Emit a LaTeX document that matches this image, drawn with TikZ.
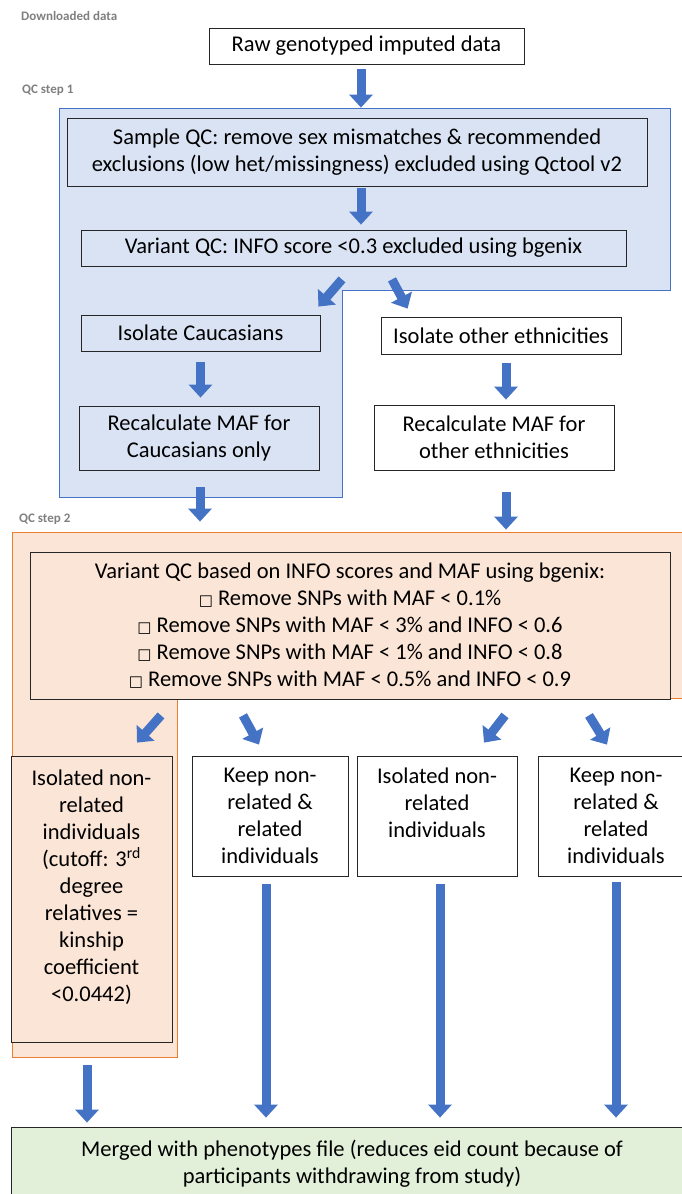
\documentclass[tikz,border=0pt]{standalone}
\usepackage{fontspec}
\setmainfont{Carlito}
\newfontfamily\boxsym{DejaVu Sans}
\usetikzlibrary{arrows.meta}
\definecolor{regionblue}{HTML}{DAE3F3}
\definecolor{edgeblue}{HTML}{4472C4}
\definecolor{regionorange}{HTML}{FBE5D6}
\definecolor{edgeorange}{HTML}{ED7D31}
\definecolor{mergegreen}{HTML}{E2F0D9}
\definecolor{arrowblue}{HTML}{4472C4}
\definecolor{labelgray}{HTML}{7F7F7F}
\newcommand{\chk}{{\boxsym\fontsize{15}{15}\selectfont\char"25A1}\ }
\tikzstyle{stage} = [rectangle, draw=black!85, line width=0.8pt, inner sep=0pt, align=center, font=\fontsize{22.5}{27}\selectfont]
\tikzstyle{steplabel} = [anchor=west, inner sep=0pt, text=labelgray, font=\bfseries\fontsize{13}{15}\selectfont]
\tikzstyle{blockarrow} = [line width=9pt, draw=arrowblue, -{Triangle[width=23pt,length=13pt]}]

\begin{document}
\begin{tikzpicture}[x=1pt, y=-1pt]
\useasboundingbox (0,0) rectangle (682,1194);

%Regions
\filldraw [fill=regionblue, draw=edgeblue, line width=0.8pt] (59,108) -- (670,108) -- (670,290) -- (342,290) -- (342,497) -- (59,497) -- cycle;
\filldraw [fill=regionorange, draw=edgeorange, line width=0.8pt] (12,532) -- (690,532) -- (690,698) -- (177,698) -- (177,1057) -- (12,1057) -- cycle;

%Labels
\node (dl_label) [steplabel] at (21,16) {Downloaded data};
\node (qc1_label) [steplabel] at (22,90) {QC step 1};
\node (qc2_label) [steplabel] at (19,519) {QC step 2};

%Raw data
\node (raw) [stage, fill=white, minimum width=315pt, minimum height=36pt] at (366.5,46) {Raw genotyped imputed data};

%QC step 1
\node (sample_qc) [stage, fill=regionblue, minimum width=580pt, minimum height=68pt] at (357,152) {Sample QC: remove sex mismatches \& recommended\\exclusions (low het/missingness) excluded using Qctool v2};
\node (variant_qc) [stage, fill=regionblue, minimum width=545pt, minimum height=36pt] at (353.5,248) {Variant QC: INFO score <0.3 excluded using bgenix};
\node (cau_head) [stage, fill=regionblue, minimum width=239pt, minimum height=36pt] at (200.5,333) {Isolate Caucasians};
\node (cau_maf) [stage, fill=regionblue, minimum width=240pt, minimum height=64pt] at (199,438) {Recalculate MAF for\\Caucasians only};
\node (oth_head) [stage, fill=white, minimum width=240pt, minimum height=37pt] at (501,335.5) {Isolate other ethnicities};
\node (oth_maf) [stage, fill=white, minimum width=240pt, minimum height=65pt] at (494,437.5) {Recalculate MAF for\\other ethnicities};

%QC step 2
\node (variant_maf) [stage, fill=regionorange, minimum width=640pt, minimum height=147pt] at (350,625.5) {Variant QC based on INFO scores and MAF using bgenix:\\\chk Remove SNPs with MAF < 0.1\%\\\chk Remove SNPs with MAF < 3\% and INFO < 0.6\\\chk Remove SNPs with MAF < 1\% and INFO < 0.8\\\chk Remove SNPs with MAF < 0.5\% and INFO < 0.9};
\node (cau_unrel) [stage, fill=regionorange, minimum width=161pt, minimum height=286pt] at (91.5,899) {Isolated non-\\related\\individuals\\(cutoff: 3\textsuperscript{rd}\\degree\\relatives =\\kinship\\coefficient\\<0.0442)\\\mbox{}};
\node (cau_all) [stage, fill=white, minimum width=156pt, minimum height=120pt] at (270,816) {Keep non-\\related \&\\related\\individuals};
\node (oth_unrel) [stage, fill=white, minimum width=160pt, minimum height=120pt] at (437,816) {Isolated non-\\related\\individuals\\\mbox{}};
\node (oth_all) [stage, fill=white, minimum width=156pt, minimum height=120pt] at (616,816) {Keep non-\\related \&\\related\\individuals};

%Merge
\node (merged) [stage, fill=mergegreen, minimum width=682pt, minimum height=73pt] at (352,1163.5) {Merged with phenotypes file (reduces eid count because of\\participants withdrawing from study)};

%Arrows step 1
\draw [blockarrow, shorten <=5pt, shorten >=10pt] ([xshift=-5.5pt]raw.south) -- ([xshift=-5.5pt]raw.south |- sample_qc.north);
\draw [blockarrow, shorten <=2pt, shorten >=5pt] ([xshift=4pt]sample_qc.south) -- ([xshift=4pt]sample_qc.south |- variant_qc.north);
\draw [blockarrow] ([xshift=-11.5pt,yshift=-13pt]variant_qc.south) -- ([xshift=-2pt,yshift=8pt]cau_head.north east);
\draw [blockarrow] ([xshift=38.5pt,yshift=-13pt]variant_qc.south) -- ([xshift=27pt,yshift=8pt]oth_head.north west);
\draw [blockarrow, shorten <=11pt, shorten >=8pt] (cau_head.south) -- (cau_head.south |- cau_maf.north);
\draw [blockarrow, shorten <=9pt, shorten >=5pt] ([xshift=5pt]oth_head.south) -- ([xshift=5pt]oth_head.south |- oth_maf.north);
\draw [blockarrow, shorten <=17pt, shorten >=30pt] ([xshift=1pt]cau_maf.south) -- ([xshift=1pt]cau_maf.south |- variant_maf.north);
\draw [blockarrow, shorten <=22pt, shorten >=22pt] ([xshift=12pt]oth_maf.south) -- ([xshift=12pt]oth_maf.south |- variant_maf.north);

%Arrows step 2
\draw [blockarrow] ([xshift=-189pt,yshift=-16pt]variant_maf.south) -- ([xshift=45.5pt,yshift=13pt]cau_unrel.north);
\draw [blockarrow] ([xshift=-107pt,yshift=-16pt]variant_maf.south) -- ([xshift=-11pt,yshift=11pt]cau_all.north);
\draw [blockarrow] ([xshift=155pt,yshift=-16pt]variant_maf.south) -- ([xshift=47pt,yshift=13pt]oth_unrel.north);
\draw [blockarrow] ([xshift=239pt,yshift=-16pt]variant_maf.south) -- ([xshift=-9pt,yshift=11pt]oth_all.north);

%Arrows to merge
\draw [blockarrow, shorten <=23pt, shorten >=4pt] ([xshift=-4.5pt]cau_unrel.south) -- ([xshift=-4.5pt]cau_unrel.south |- merged.north);
\draw [blockarrow, shorten <=8pt, shorten >=9pt] ([xshift=-4pt]cau_all.south) -- ([xshift=-4pt]cau_all.south |- merged.north);
\draw [blockarrow, shorten <=8pt, shorten >=9pt] ([xshift=3pt]oth_unrel.south) -- ([xshift=3pt]oth_unrel.south |- merged.north);
\draw [blockarrow, shorten <=6pt, shorten >=9pt] (oth_all.south) -- (oth_all.south |- merged.north);

\end{tikzpicture}
\end{document}
